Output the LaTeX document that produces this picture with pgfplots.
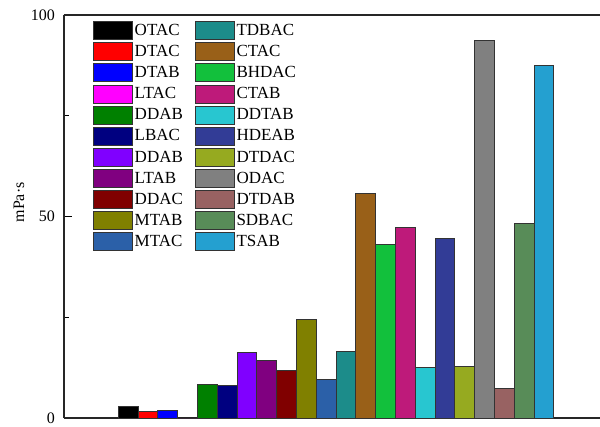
\documentclass[border=0pt]{standalone}
\usepackage{fontspec}
\setmainfont{Liberation Serif}
\usepackage{pgfplots}
\pgfplotsset{compat=1.18}
\usetikzlibrary{calc}

% bar colours
\definecolor{cOTAC}{RGB}{0,0,0}
\definecolor{cDTAC}{RGB}{255,0,0}
\definecolor{cDTAB}{RGB}{0,0,255}
\definecolor{cLTAC}{RGB}{255,0,255}
\definecolor{cDDABg}{RGB}{0,128,0}
\definecolor{cLBAC}{RGB}{0,0,128}
\definecolor{cDDABv}{RGB}{128,0,255}
\definecolor{cLTAB}{RGB}{128,0,128}
\definecolor{cDDAC}{RGB}{128,0,0}
\definecolor{cMTAB}{RGB}{128,128,0}
\definecolor{cMTAC}{RGB}{43,96,168}
\definecolor{cTDBAC}{RGB}{28,140,138}
\definecolor{cCTAC}{RGB}{153,96,24}
\definecolor{cBHDAC}{RGB}{18,192,60}
\definecolor{cCTAB}{RGB}{190,26,122}
\definecolor{cDDTAB}{RGB}{40,198,208}
\definecolor{cHDEAB}{RGB}{50,60,150}
\definecolor{cDTDAC}{RGB}{150,170,32}
\definecolor{cODAC}{RGB}{128,128,128}
\definecolor{cDTDAB}{RGB}{152,98,98}
\definecolor{cSDBAC}{RGB}{88,140,88}
\definecolor{cTSAB}{RGB}{36,160,208}

\begin{document}
\begin{tikzpicture}
\begin{axis}[
  name=ax,
  scale only axis, width=536pt, height=403pt,
  xmin=-3.23, xmax=23.84, ymin=0, ymax=100,
  axis x line=box, axis y line=left,
  axis line style={-, line width=1.1pt, black!85},
  xtick=\empty, ytick={0,50,100}, minor ytick={25,75},
  tick align=inside, major tick length=8pt, minor tick length=5pt,
  tick style={line width=1.1pt, black},
  /pgf/number format/assume math mode=true,
  yticklabel style={font=\fontsize{16}{16}\selectfont, xshift=-5.5pt},
  ylabel={mPa·s},
  every axis y label/.style={at={(rel axis cs:0,0.535)}, xshift=-45pt, rotate=90, anchor=center, font=\fontsize{16}{16}\selectfont},
  ybar, bar width=1, bar shift=0,
  every axis plot/.append style={bar shift=0, draw=black!80, line width=0.6pt},
  legend columns=2, legend cell align=left,
  legend style={at={(rel axis cs:0.054,0.985)}, anchor=north west, draw=none, fill=none,
    font=\fontsize{17}{17}\selectfont, inner sep=0pt, row sep=2.5pt,
    /tikz/every even column/.append style={column sep=10pt}},
  legend image code/.code={\draw[#1, draw=black!80, line width=0.6pt] (0pt,-9pt) rectangle (39pt,9pt);},
]
% pairs: left legend column, right legend column
\addplot[fill=cOTAC]  coordinates {(0,2.8)};   \addlegendentry{OTAC}
\addplot[fill=cTDBAC] coordinates {(11,16.6)}; \addlegendentry{TDBAC}
\addplot[fill=cDTAC]  coordinates {(1,1.7)};   \addlegendentry{DTAC}
\addplot[fill=cCTAC]  coordinates {(12,55.8)}; \addlegendentry{CTAC}
\addplot[fill=cDTAB]  coordinates {(2,2.0)};   \addlegendentry{DTAB}
\addplot[fill=cBHDAC] coordinates {(13,43.2)}; \addlegendentry{BHDAC}
\addplot[fill=cLTAC]  coordinates {(3,0)};     \addlegendentry{LTAC}
\addplot[fill=cCTAB]  coordinates {(14,47.4)}; \addlegendentry{CTAB}
\addplot[fill=cDDABg] coordinates {(4,8.3)};   \addlegendentry{DDAB}
\addplot[fill=cDDTAB] coordinates {(15,12.7)}; \addlegendentry{DDTAB}
\addplot[fill=cLBAC]  coordinates {(5,8.0)};   \addlegendentry{LBAC}
\addplot[fill=cHDEAB] coordinates {(16,44.5)}; \addlegendentry{HDEAB}
\addplot[fill=cDDABv] coordinates {(6,16.2)};  \addlegendentry{DDAB}
\addplot[fill=cDTDAC] coordinates {(17,12.9)}; \addlegendentry{DTDAC}
\addplot[fill=cLTAB]  coordinates {(7,14.4)};  \addlegendentry{LTAB}
\addplot[fill=cODAC]  coordinates {(18,93.6)}; \addlegendentry{ODAC}
\addplot[fill=cDDAC]  coordinates {(8,11.9)};  \addlegendentry{DDAC}
\addplot[fill=cDTDAB] coordinates {(19,7.3)};  \addlegendentry{DTDAB}
\addplot[fill=cMTAB]  coordinates {(9,24.6)};  \addlegendentry{MTAB}
\addplot[fill=cSDBAC] coordinates {(20,48.4)}; \addlegendentry{SDBAC}
\addplot[fill=cMTAC]  coordinates {(10,9.65)}; \addlegendentry{MTAC}
\addplot[fill=cTSAB]  coordinates {(21,87.5)}; \addlegendentry{TSAB}
\end{axis}
\pgfresetboundingbox
\path ($(ax.south west)+(-64pt,-8pt)$) rectangle ($(ax.north east)+(0pt,15pt)$);
\end{tikzpicture}
\end{document}
